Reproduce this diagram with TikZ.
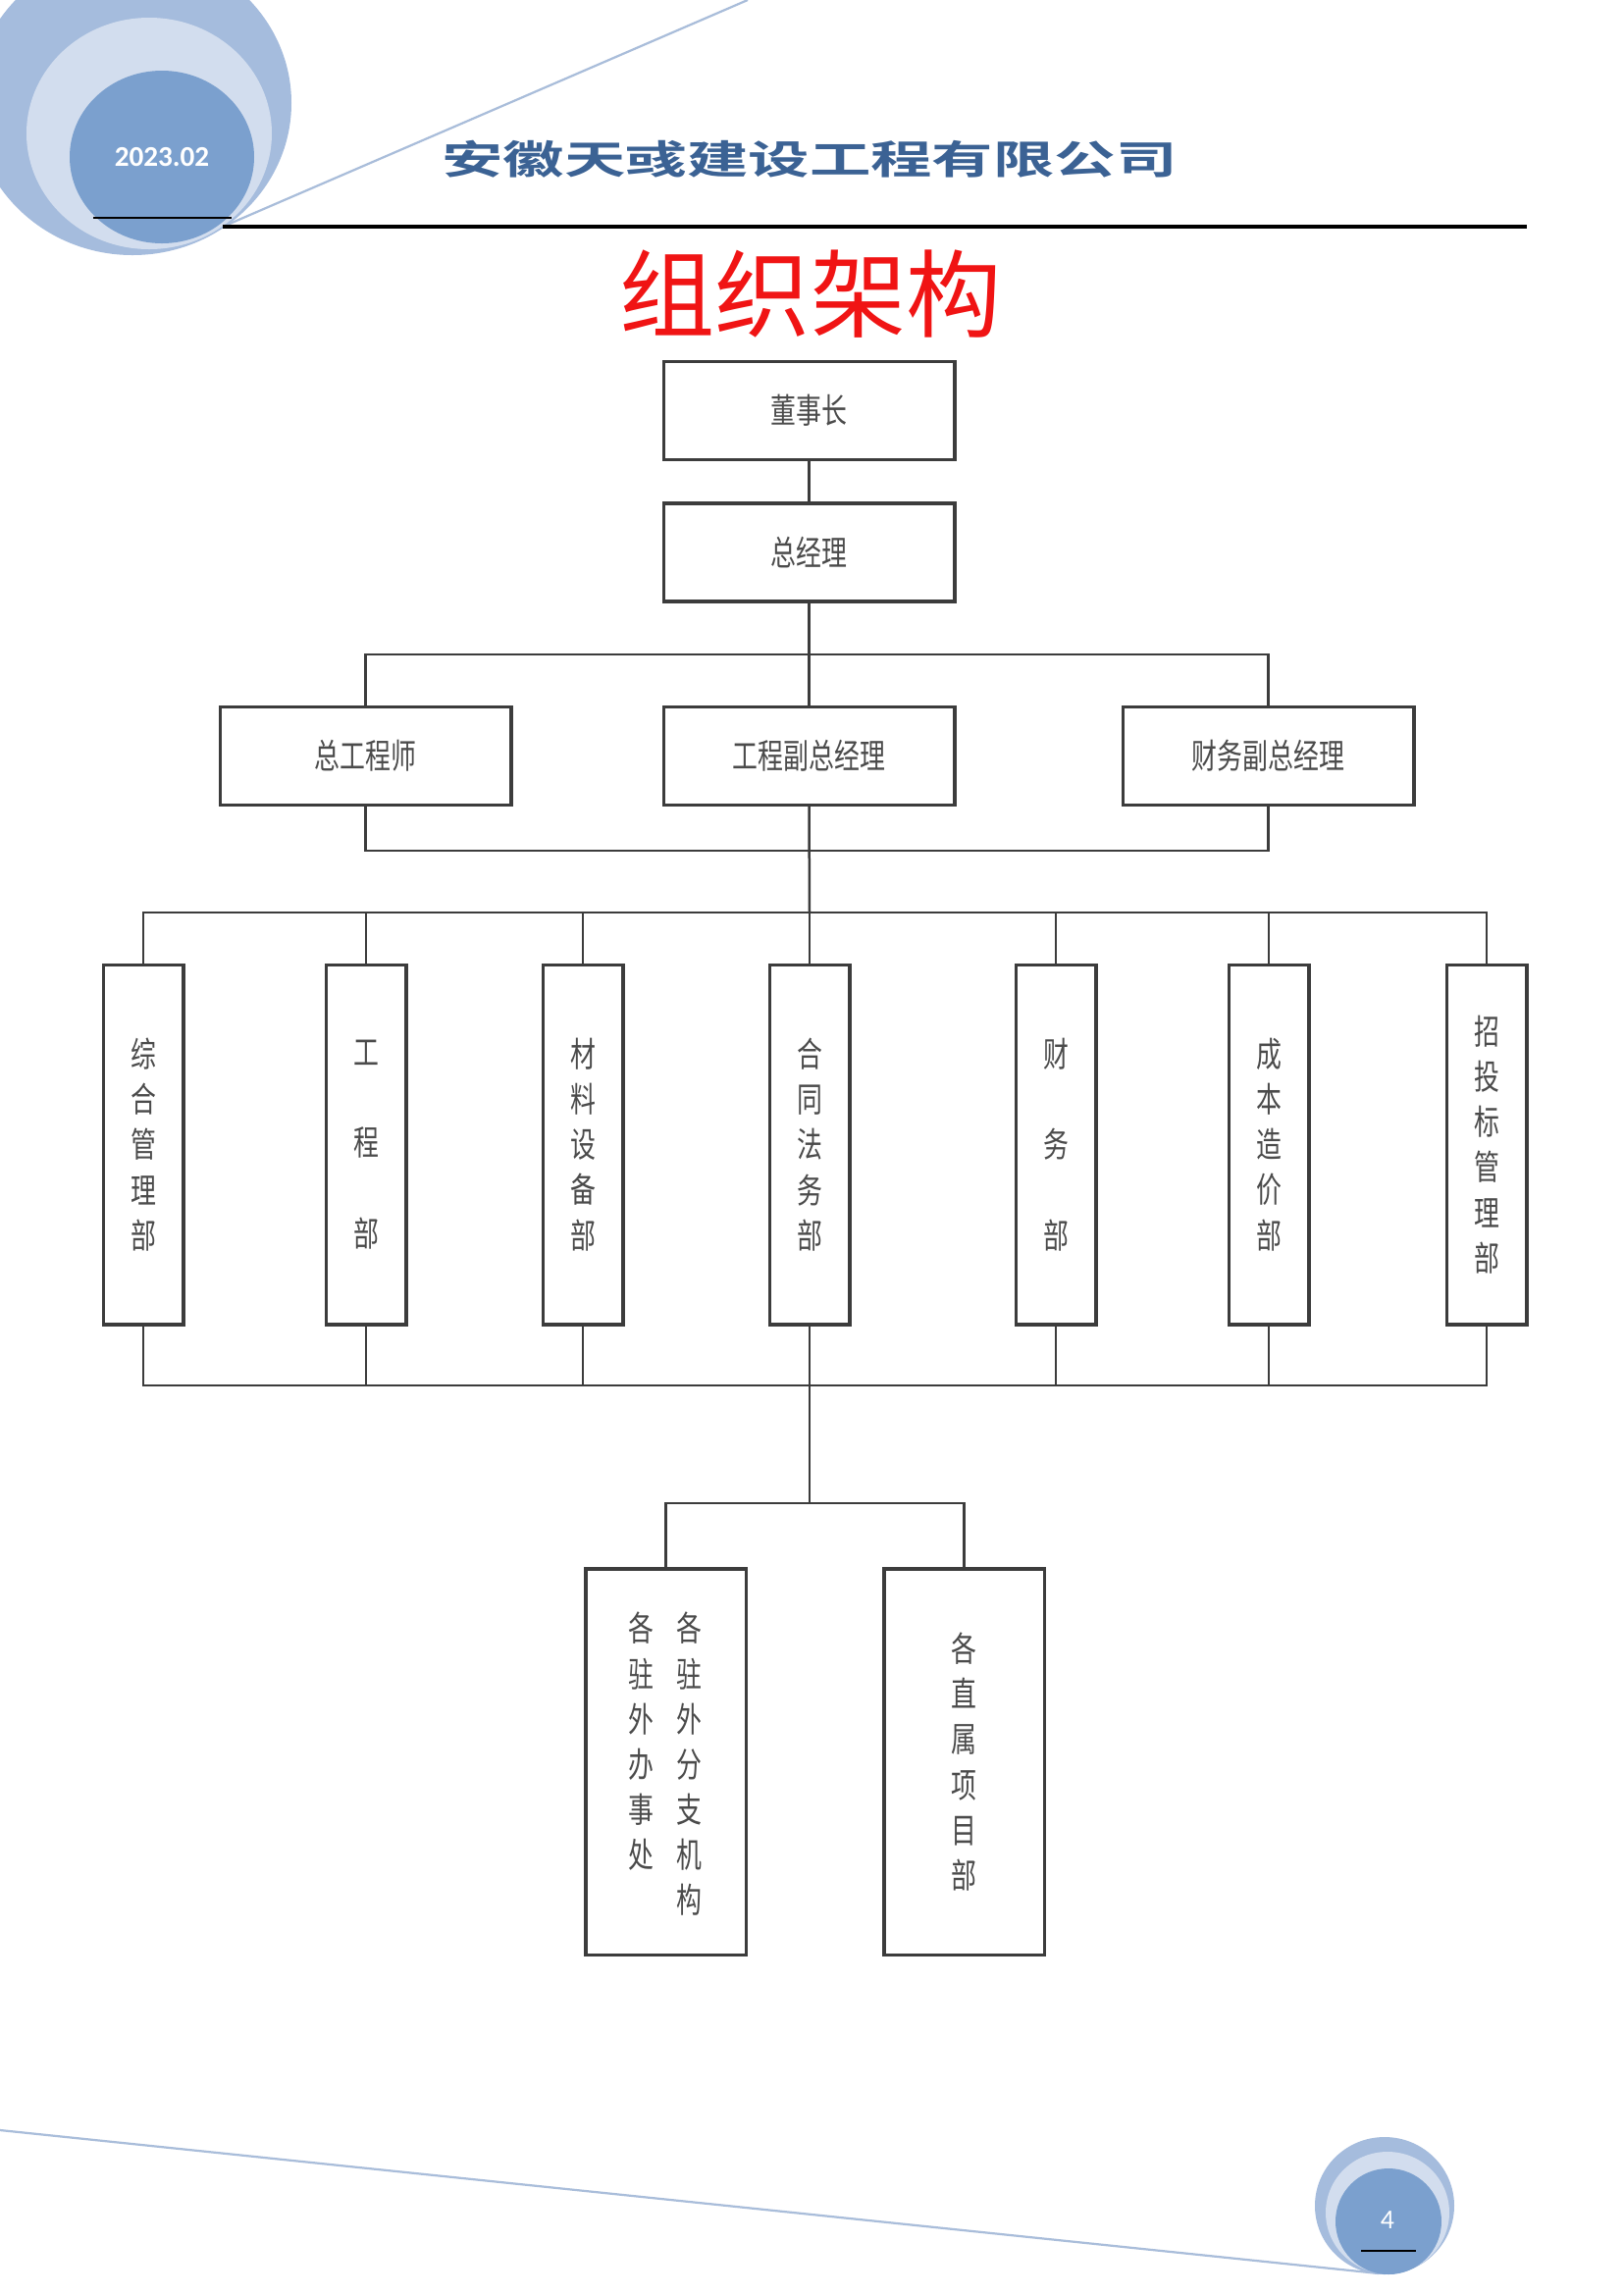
\documentclass[tikz,border=0pt]{standalone}
\usepackage{fontspec}
\setmainfont{Carlito}
\newfontfamily\cjk{Noto Sans CJK SC}[FakeStretch=0.74]
\newfontfamily\compfont{Noto Sans CJK SC}[FakeStretch=1.55,UprightFont={* Bold}]
\newfontfamily\redfont{Noto Sans CJK SC}
\definecolor{outerblue}{RGB}{165,188,221}
\definecolor{midblue}{RGB}{210,221,238}
\definecolor{innerblue}{RGB}{123,160,206}
\definecolor{lineblue}{RGB}{169,189,218}
\definecolor{titleblue}{RGB}{59,98,148}
\definecolor{boxline}{RGB}{60,60,60}
\definecolor{boxtext}{RGB}{75,75,75}
\definecolor{titlered}{RGB}{240,20,20}
\tikzset{
  box/.style={draw=boxline, line width=1.1pt, fill=white, inner sep=0pt,
    font=\cjk\fontsize{12.6}{16.6}\selectfont, text=boxtext, align=center},
  hbox/.style={box, minimum width=106.9pt, minimum height=36pt},
  dbox/.style={box, minimum width=29.5pt, minimum height=132.1pt},
  sbox/.style={box, minimum width=58.7pt, minimum height=141.5pt},
  conn/.style={draw=boxline, line width=0.9pt},
}
\begin{document}
\begin{tikzpicture}[x=0.36pt,y=-0.36pt]
\useasboundingbox (0,0) rectangle (1654,2339);
\fill[white] (0,0) rectangle (1654,2339);
% top-left decoration
\fill[outerblue] (135,105) ellipse [x radius=162, y radius=155];
\fill[midblue] (152,136) ellipse [x radius=125, y radius=118];
\fill[innerblue] (165,160) ellipse [x radius=94, y radius=88];
\draw[line width=0.8pt] (95,222) -- (236,222);
\draw[lineblue, line width=0.8pt] (227,231) -- (762,0);
\draw[line width=1.2pt] (227,231) -- (1556,231);
\node[text=white, font=\bfseries\fontsize{10.5}{12}\selectfont] (date) at (165,160) {2023.02};
\node[text=titleblue, font=\compfont\fontsize{14.5}{16}\selectfont] (company) at (825,162) {安徽天彧建设工程有限公司};
\node[text=titlered, font=\redfont\fontsize{35}{40}\selectfont] (title) at (826,300) {组织架构};
% bottom decoration
\draw[lineblue, line width=0.8pt] (0,2171) -- (1405,2317);
\fill[outerblue] (1411,2248) ellipse [x radius=71, y radius=70];
\fill[midblue] (1414,2255) ellipse [x radius=63, y radius=62];
\fill[innerblue] (1415,2264) ellipse [x radius=54, y radius=54];
\node[text=white, font=\fontsize{10}{12}\selectfont] (pg) at (1414,2263) {4};
\draw[line width=0.8pt] (1387,2294) -- (1443,2294);
% org chart nodes
\node[hbox] (chair) at (824.5,418.5) {董事长};
\node[hbox] (gm) at (824.5,563) {总经理};
\node[hbox] (ce) at (372.5,770.5) {总工程师};
\node[hbox] (epm) at (824.5,770.5) {工程副总经理};
\node[hbox] (fpm) at (1292.5,770.5) {财务副总经理};
\node[dbox] (d1) at (146,1166.5) {综\\合\\管\\理\\部};
\node[dbox] (d2) at (373,1166.5) {工\\[16.6pt]程\\[16.6pt]部};
\node[dbox] (d3) at (594,1166.5) {材\\料\\设\\备\\部};
\node[dbox] (d4) at (825,1166.5) {合\\同\\法\\务\\部};
\node[dbox] (d5) at (1076,1166.5) {财\\[16.6pt]务\\[16.6pt]部};
\node[dbox] (d6) at (1293,1166.5) {成\\本\\造\\价\\部};
\node[dbox] (d7) at (1515,1166.5) {招\\投\\标\\管\\理\\部};
\node[sbox] (s1) at (678.5,1795.5) {};
\node[font=\cjk\fontsize{12.6}{16.6}\selectfont, text=boxtext, inner sep=0pt] (s1t) at (678,1802)
  {\begin{tabular}[t]{@{}c@{}}各\\驻\\外\\办\\事\\处\end{tabular}\hspace{8.3pt}\begin{tabular}[t]{@{}c@{}}各\\驻\\外\\分\\支\\机\\构\end{tabular}};
\node[sbox] (s2) at (982.5,1795.5) {各\\直\\属\\项\\目\\部};
% connectors
\coordinate (b1) at (825,667);
\coordinate (b2) at (825,867);
\coordinate (b3) at (825,930);
\coordinate (b4) at (825,1412);
\coordinate (b5) at (825,1532);
\draw[conn] (chair) -- (gm);
\draw[conn] (gm.south) -- (epm.north);
\draw[conn] (ce.north) |- (b1) -| (fpm.north);
\draw[conn] (ce.south) |- (b2) -| (fpm.south);
\draw[conn] (epm.south) -- (b3);
\draw[conn] (d1.north) |- (b3) -| (d7.north);
\draw[conn] (d1.south) |- (b4) -| (d7.south);
\foreach \nm in {d2,d3,d4,d5,d6} {
  \draw[conn] (\nm.north) -- (\nm.north |- b3);
  \draw[conn] (\nm.south) -- (\nm.south |- b4);
}
\draw[conn] (b4) -- (b5);
\draw[conn] (s1.north) |- (b5) -| (s2.north);
\end{tikzpicture}
\end{document}
